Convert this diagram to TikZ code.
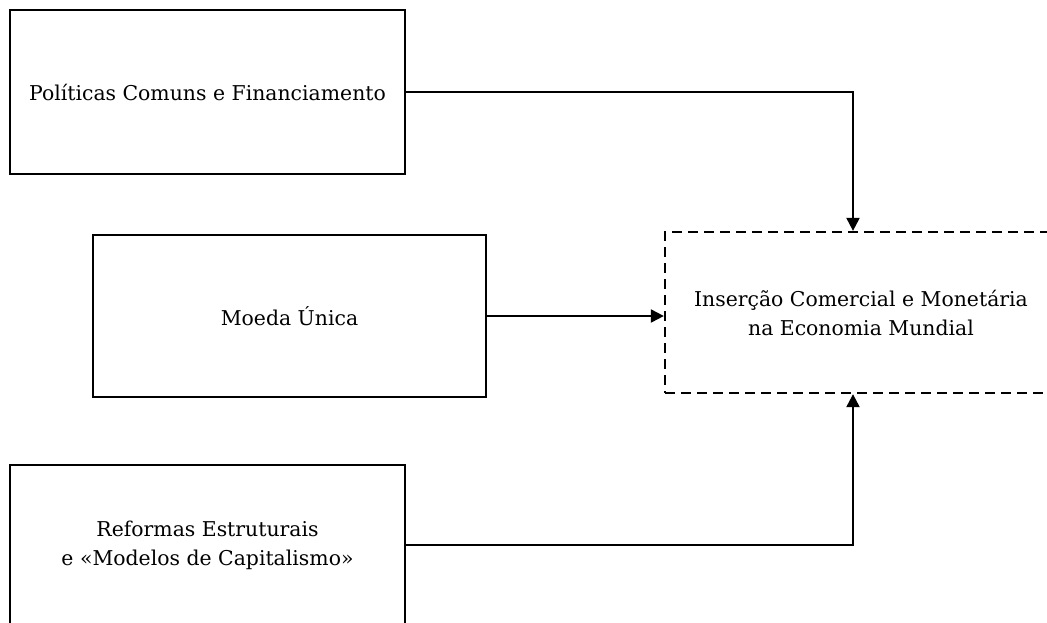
\documentclass[tikz,border=0pt]{standalone}
\usepackage{fontspec}
\setmainfont{DejaVu Serif}
\usetikzlibrary{arrows.meta}
\begin{document}
\begin{tikzpicture}[x=1pt,y=-1pt,
  box/.style={draw, line width=2.3pt, inner sep=0pt, align=center,
    font=\fontsize{20.4}{29}\selectfont},
  dbox/.style={box, dash pattern=on 10pt off 6pt},
  conn/.style={line width=2.2pt, -{Triangle[width=13pt,length=13pt]}}]
\useasboundingbox (0,0) rectangle (1047,622);
\fill[white] (0,0) rectangle (1047,622);
\node[box, minimum width=395pt, minimum height=164pt] (pol) at (207.5,92) {Políticas Comuns e Financiamento};
\node[box, minimum width=393pt, minimum height=162pt] (moe) at (289.5,316) {Moeda Única};
\node[box, minimum width=395pt, minimum height=160pt] (ref) at (207.5,545) {Reformas Estruturais\\e «Modelos de Capitalismo»};
\node[dbox, minimum width=392pt, minimum height=161pt] (ins) at (861,312.5) {Inserção Comercial e Monetária\\na Economia Mundial};
\coordinate (tx) at (853,0);
\draw[conn] (pol.east) -| (tx |- ins.north);
\draw[conn] (moe.east) -- (moe.east -| ins.west);
\draw[conn] (ref.east) -| (tx |- ins.south);
\end{tikzpicture}
\end{document}
